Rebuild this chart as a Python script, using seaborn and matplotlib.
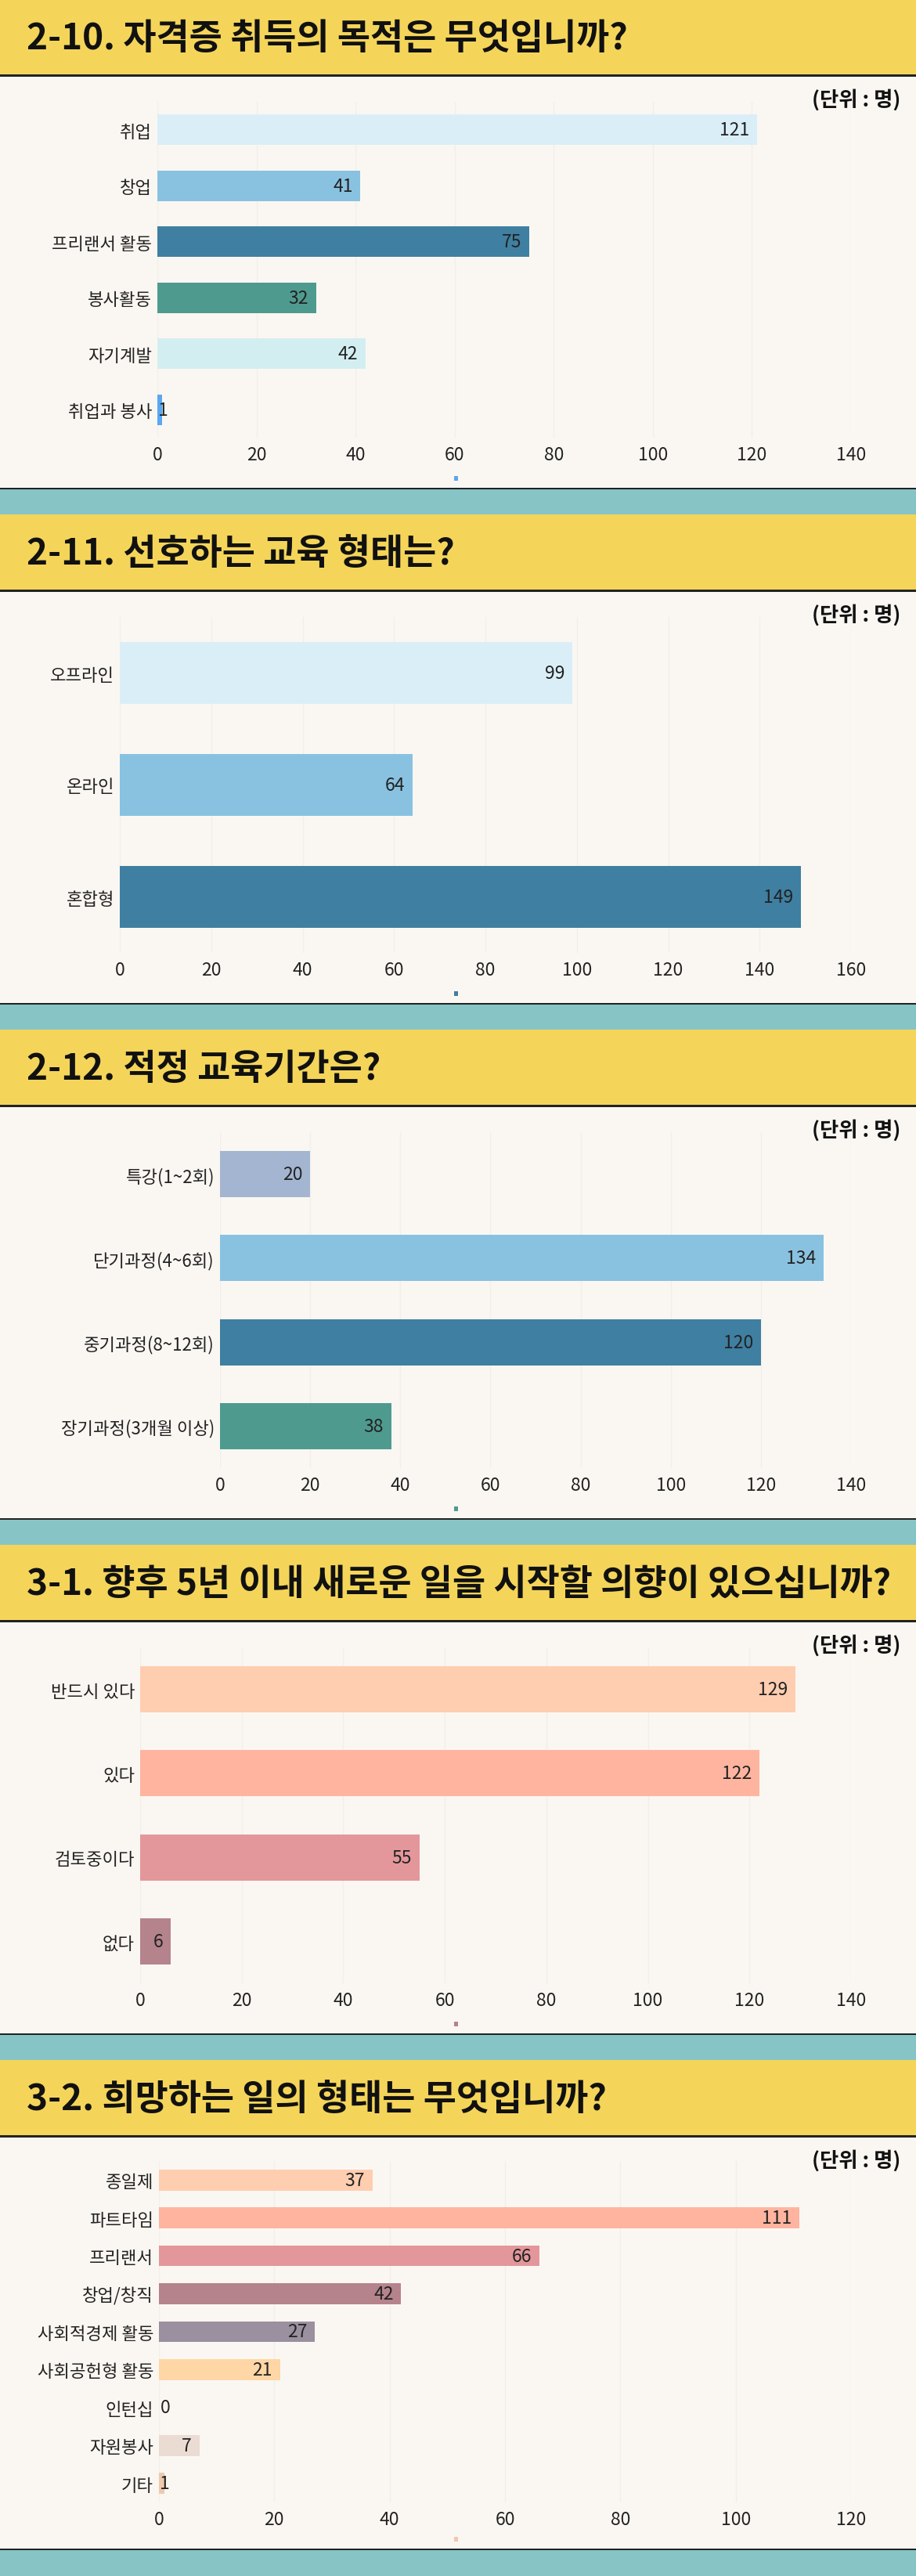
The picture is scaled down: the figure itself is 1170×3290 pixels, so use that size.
import numpy as np
import pandas as pd
import seaborn as sns
import matplotlib.pyplot as plt
from matplotlib.patches import Rectangle

q210_title = '2-10. 자격증 취득의 목적은 무엇입니까?'
q210_labels = ['취업', '창업', '프리랜서 활동', '봉사활동', '자기계발', '취업과 봉사']
q210_values = [121, 41, 75, 32, 42, 1]
q210_colors = ['#DAEEF8', '#89C2E0', '#3F7FA1', '#4F9A8F', '#D3EEF1', '#5BA7F0']

q211_title = '2-11. 선호하는 교육 형태는?'
q211_labels = ['오프라인', '온라인', '혼합형']
q211_values = [99, 64, 149]
q211_colors = ['#DAEEF8', '#89C2E0', '#3F7FA1']

q212_title = '2-12. 적정 교육기간은?'
q212_labels = ['특강(1~2회)', '단기과정(4~6회)', '중기과정(8~12회)', '장기과정(3개월 이상)']
q212_values = [20, 134, 120, 38]
q212_colors = ['#A3B5D0', '#89C2E0', '#3F7FA1', '#4F9A8F']

q31_title = '3-1. 향후 5년 이내 새로운 일을 시작할 의향이 있으십니까?'
q31_labels = ['반드시 있다', '있다', '검토중이다', '없다']
q31_values = [129, 122, 55, 6]
q31_colors = ['#FFCDB0', '#FFB4A0', '#E3979B', '#B5838C']

q32_title = '3-2. 희망하는 일의 형태는 무엇입니까?'
q32_labels = ['종일제', '파트타임', '프리랜서', '창업/창직', '사회적경제 활동',
              '사회공헌형 활동', '인턴십', '자원봉사', '기타']
q32_values = [37, 111, 66, 42, 27, 21, 0, 7, 1]
q32_colors = ['#FFCDB0', '#FFB4A0', '#E3979B', '#B5838C', '#9B909F',
              '#FFD6A5', '#D9C7C0', '#EBDCD3', '#EFC9AE']

x_max = [140, 160, 140, 140, 120]
axes_left = [201, 153, 281, 179, 203]

# ---- style ----
BG = '#FAF7F2'
YELLOW = '#F4D55A'
TEAL = '#86C4C6'
sns.set_theme(style='white')
plt.rcParams['font.family'] = ['Noto Sans CJK KR', 'DejaVu Sans']

W, H = 1170, 3291
PITCH = 658
fig = plt.figure(figsize=(W / 100, H / 100), dpi=100, facecolor=BG)


def box(x, y, w, h, color):
    fig.add_artist(Rectangle((x / W, 1 - (y + h) / H), w / W, h / H,
                             transform=fig.transFigure, facecolor=color,
                             edgecolor='none', zorder=0))


panels = [
    (q210_title, q210_labels, q210_values, q210_colors),
    (q211_title, q211_labels, q211_values, q211_colors),
    (q212_title, q212_labels, q212_values, q212_colors),
    (q31_title, q31_labels, q31_values, q31_colors),
    (q32_title, q32_labels, q32_values, q32_colors),
]

for i, (title, labels, values, colors) in enumerate(panels):
    y0 = i * PITCH
    # header band, dividers, teal separator
    box(0, y0, W, 96, YELLOW)
    box(0, y0 + 96, W, 2.5, '#222222')
    box(0, y0 + 623.5, W, 2.5, '#222222')
    box(0, y0 + 626, W, 33, TEAL)
    fig.text(34 / W, 1 - (y0 + 50) / H, title, fontsize=33, fontweight='heavy',
             color='#111111', va='center', ha='left')
    fig.text(1150 / W, 1 - (y0 + 128) / H, '(단위 : 명)', fontsize=19,
             fontweight='bold', color='#111111', va='center', ha='right')

    top, bot = (129, 565) if i == 4 else (131, 560)
    left = axes_left[i]
    ax = fig.add_axes([left / W, 1 - (y0 + bot) / H, (1087 - left) / W, (bot - top) / H])
    ax.set_facecolor('none')

    df = pd.DataFrame({'label': labels, 'value': values})
    sns.barplot(data=df, x='value', y='label', hue='label', palette=colors,
                legend=False, width=0.55, saturation=1, orient='h', ax=ax,
                linewidth=0)

    n = len(labels)
    ax.set_xlim(0, x_max[i])
    ax.set_ylim(n - 0.5, -0.5)
    ax.set_xticks(np.arange(0, x_max[i] + 1, 20))
    ax.grid(axis='x', color='#F2EFE9', linewidth=1)
    ax.grid(axis='y', visible=False)
    ax.set_axisbelow(True)
    for s in ax.spines.values():
        s.set_visible(False)
    ax.set_xlabel('')
    ax.set_ylabel('')
    ax.tick_params(axis='x', length=0, labelsize=16.5, pad=7, labelcolor='#222222')
    ax.tick_params(axis='y', length=0, labelsize=16, pad=5, labelcolor='#222222')

    px_per_unit = (1087 - left) / x_max[i]
    for k, v in enumerate(values):
        if v * px_per_unit < 30:
            ax.annotate(str(v), (0, k), xytext=(1, 0), textcoords='offset points',
                        ha='left', va='center', fontsize=16.5, color='#222222')
        else:
            ax.annotate(str(v), (v, k), xytext=(-7, 0), textcoords='offset points',
                        ha='right', va='center', fontsize=16.5, color='#222222')

    # tiny truncated legend swatch under each chart
    box(580, y0 + 609, 5, 6, colors[-1])

fig.savefig('out.png', dpi=100, facecolor=BG)
